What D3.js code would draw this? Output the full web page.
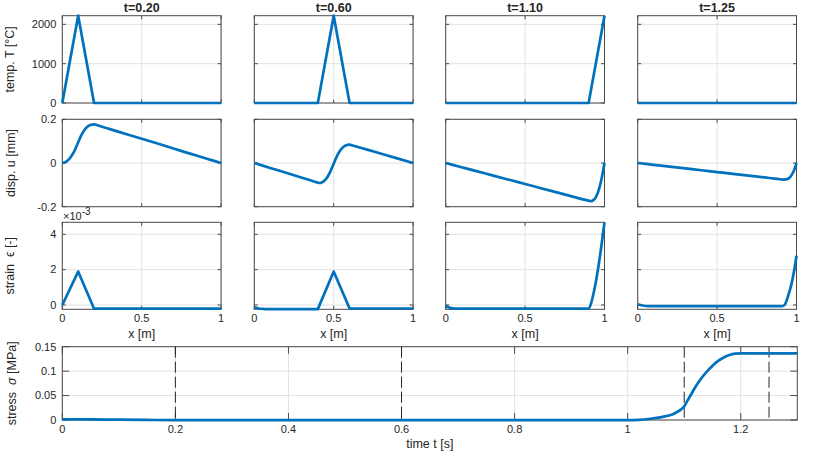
<!DOCTYPE html>
<html>
<head>
<meta charset="utf-8">
<script src="https://cdn.jsdelivr.net/npm/d3@7"></script>
<style>
  html, body { margin: 0; padding: 0; background: #fff; }
  svg { display: block; }
  text { font-family: "Liberation Sans", Arial, Helvetica, sans-serif; fill: #262626; }
</style>
</head>
<body>
<svg id="chart" width="830" height="457"></svg>
<script>
// ---------------- DATA ----------------
const times = ["t=0.20", "t=0.60", "t=1.10", "t=1.25"];
const snapTimes = [0.2, 0.6, 1.1, 1.25];

// temperature T [°C] along x [m]
const temp020 = [[0,0],[0.1,2220],[0.2,0],[1,0]];
const temp060 = [[0,0],[0.4,0],[0.5,2220],[0.6,0],[1,0]];
const temp110 = [[0,0],[0.9,0],[1,2220]];
const temp125 = [[0,0],[1,0]];

// displacement u [mm] along x [m]
const disp020 = [[0,0],[0.025,0.006],[0.05,0.024],[0.075,0.053],[0.1,0.095],[0.125,0.134],[0.15,0.161],[0.175,0.174],[0.2,0.177],[0.22,0.173],[0.3,0.155],[0.4,0.133],[0.5,0.111],[0.6,0.089],[0.7,0.066],[0.8,0.044],[0.9,0.022],[1,0]];
const disp060 = [[0,0],[0.1,-0.0225],[0.2,-0.045],[0.3,-0.0675],[0.38,-0.0855],[0.4,-0.0895],[0.415,-0.0915],[0.425,-0.089],[0.45,-0.075],[0.475,-0.045],[0.5,-0.003],[0.525,0.038],[0.55,0.066],[0.575,0.080],[0.6,0.084],[0.62,0.080],[0.7,0.0634],[0.8,0.0423],[0.9,0.0212],[1,0]];
const disp110 = [[0,0],[0.1,-0.0192],[0.2,-0.0384],[0.3,-0.0577],[0.4,-0.0769],[0.5,-0.0961],[0.6,-0.1153],[0.7,-0.1345],[0.8,-0.1538],[0.88,-0.169],[0.9,-0.1725],[0.915,-0.1745],[0.93,-0.170],[0.945,-0.157],[0.96,-0.132],[0.98,-0.078],[1,0]];
const disp125 = [[0,0],[0.1,-0.0083],[0.2,-0.0166],[0.3,-0.0248],[0.4,-0.0331],[0.5,-0.0414],[0.6,-0.0497],[0.7,-0.058],[0.8,-0.0662],[0.88,-0.0728],[0.9,-0.0745],[0.92,-0.0757],[0.94,-0.074],[0.96,-0.0644],[0.98,-0.0414],[1,0]];

// strain epsilon [x1e-3] along x [m]
const strain020 = [[0,0],[0.1,1.89],[0.2,-0.21],[1,-0.21]];
const strain060 = [[0,-0.13],[0.03,-0.2],[0.07,-0.235],[0.4,-0.235],[0.5,1.89],[0.6,-0.2],[1,-0.2]];
const strain110 = [[0,-0.06],[0.04,-0.19],[0.08,-0.21],[0.5,-0.21],[0.9,-0.21],[0.92,0.24],[0.94,1.04],[0.96,2.08],[0.98,3.31],[1,4.68]];
const strain125 = [[0,0.04],[0.03,-0.03],[0.07,-0.07],[0.5,-0.07],[0.9,-0.07],[0.91,-0.06],[0.92,-0.03],[0.93,0.08],[0.94,0.3],[0.95,0.6],[0.96,0.9],[0.97,1.25],[0.98,1.7],[0.99,2.2],[1,2.79]];

// stress sigma [MPa] over time t [s]
const stress = [[0,0.0015],[0.05,0.0012],[0.1,0.0006],[0.15,0.0001],[0.2,-0.0003],[0.6,-0.0003],[1.0,-0.0002],[1.02,0.0003],[1.04,0.0025],[1.06,0.006],[1.08,0.012],[1.09,0.018],[1.1,0.028],[1.105,0.038],[1.11,0.048],[1.12,0.068],[1.13,0.085],[1.14,0.099],[1.15,0.111],[1.16,0.121],[1.17,0.128],[1.18,0.133],[1.19,0.1358],[1.2,0.1365],[1.3,0.1365]];

// axis limits & ticks
const xDomain = [0, 1];
const xTicks = [0, 0.5, 1];
const xTickLabels = ["0", "0.5", "1"];
const tempDomain = [0, 2220];
const tempTicks = [0, 1000, 2000];
const tempTickLabels = ["0", "1000", "2000"];
const dispDomain = [-0.2, 0.2];
const dispTicks = [-0.2, 0, 0.2];
const dispTickLabels = ["-0.2", "0", "0.2"];
const strainDomain = [-0.245, 4.68];
const strainTicks = [0, 2, 4];
const strainTickLabels = ["0", "2", "4"];
const tDomain = [0, 1.3];
const tTicks = [0, 0.2, 0.4, 0.6, 0.8, 1, 1.2];
const tTickLabels = ["0", "0.2", "0.4", "0.6", "0.8", "1", "1.2"];
const stressDomain = [0, 0.15];
const stressTicks = [0, 0.05, 0.1, 0.15];
const stressTickLabels = ["0", "0.05", "0.1", "0.15"];

const tempSeries = [temp020, temp060, temp110, temp125];
const dispSeries = [disp020, disp060, disp110, disp125];
const strainSeries = [strain020, strain060, strain110, strain125];

// ---------------- DRAWING ----------------
const svg = d3.select("#chart");
const LINE = "#0072BD";
const BOX = "#4a4a4a";
const GRID = "#e2e2e2";

const colX = [62.3, 254.3, 445.7, 637.7];
const panelW = 158.8;
const rows = [[15.7, 103], [119.3, 206.7], [222.3, 309.3]];

function drawAxes(opts) {
  const {x0, x1, y0, y1, xd, yd, xt, xtl, yt, ytl, showX, showY, tl, data, curve, vlines} = opts;
  const g = svg.append("g");
  const x = d3.scaleLinear().domain(xd).range([x0, x1]);
  const y = d3.scaleLinear().domain(yd).range([y1, y0]);
  // grid
  g.selectAll(".gx").data(xt).enter().append("line")
    .attr("x1", d => x(d)).attr("x2", d => x(d)).attr("y1", y0).attr("y2", y1)
    .attr("stroke", GRID).attr("stroke-width", 1);
  g.selectAll(".gy").data(yt).enter().append("line")
    .attr("x1", x0).attr("x2", x1).attr("y1", d => y(d)).attr("y2", d => y(d))
    .attr("stroke", GRID).attr("stroke-width", 1);
  // box
  g.append("rect").attr("x", x0).attr("y", y0).attr("width", x1 - x0).attr("height", y1 - y0)
    .attr("fill", "none").attr("stroke", BOX).attr("stroke-width", 1);
  // ticks (inside, all four sides)
  xt.forEach(d => {
    g.append("line").attr("x1", x(d)).attr("x2", x(d)).attr("y1", y1).attr("y2", y1 - tl).attr("stroke", BOX);
    g.append("line").attr("x1", x(d)).attr("x2", x(d)).attr("y1", y0).attr("y2", y0 + tl).attr("stroke", BOX);
  });
  yt.forEach(d => {
    g.append("line").attr("x1", x0).attr("x2", x0 + tl).attr("y1", y(d)).attr("y2", y(d)).attr("stroke", BOX);
    g.append("line").attr("x1", x1).attr("x2", x1 - tl).attr("y1", y(d)).attr("y2", y(d)).attr("stroke", BOX);
  });
  // vertical dashed markers
  if (vlines) {
    g.selectAll(".vl").data(vlines).enter().append("line")
      .attr("x1", d => x(d)).attr("x2", d => x(d)).attr("y1", y0).attr("y2", y1)
      .attr("stroke", "#262626").attr("stroke-width", 1).attr("stroke-dasharray", "11,4");
  }
  // data
  const line = d3.line().x(d => x(d[0])).y(d => y(d[1])).curve(curve);
  g.append("path").datum(data).attr("d", line)
    .attr("fill", "none").attr("stroke", LINE).attr("stroke-width", 2.7)
    .attr("stroke-linejoin", "round").attr("stroke-linecap", "butt");
  // tick labels
  if (showX) {
    g.selectAll(".xl").data(xt).enter().append("text")
      .attr("x", d => x(d)).attr("y", y1 + 13).attr("text-anchor", "middle")
      .attr("font-size", "11px").text((d, i) => xtl[i]);
  }
  if (showY) {
    g.selectAll(".yl").data(yt).enter().append("text")
      .attr("x", x0 - 6).attr("y", d => y(d)).attr("dy", "0.35em").attr("text-anchor", "end")
      .attr("font-size", "11px").text((d, i) => ytl[i]);
  }
  return {x, y};
}

for (let c = 0; c < 4; c++) {
  const x0 = colX[c], x1 = colX[c] + panelW;
  // title
  svg.append("text").attr("x", (x0 + x1) / 2).attr("y", 11.5).attr("text-anchor", "middle")
    .attr("font-size", "12.5px").attr("font-weight", "bold").text(times[c]);
  drawAxes({x0, x1, y0: rows[0][0], y1: rows[0][1], xd: xDomain, yd: tempDomain,
    xt: xTicks, xtl: xTickLabels, yt: tempTicks, ytl: tempTickLabels,
    showX: false, showY: c === 0, tl: 3.5, data: tempSeries[c], curve: d3.curveLinear});
  drawAxes({x0, x1, y0: rows[1][0], y1: rows[1][1], xd: xDomain, yd: dispDomain,
    xt: xTicks, xtl: xTickLabels, yt: dispTicks, ytl: dispTickLabels,
    showX: false, showY: c === 0, tl: 3.5, data: dispSeries[c], curve: d3.curveMonotoneX});
  drawAxes({x0, x1, y0: rows[2][0], y1: rows[2][1], xd: xDomain, yd: strainDomain,
    xt: xTicks, xtl: xTickLabels, yt: strainTicks, ytl: strainTickLabels,
    showX: true, showY: c === 0, tl: 3.5, data: strainSeries[c],
    curve: c < 2 ? d3.curveLinear : d3.curveMonotoneX});
  svg.append("text").attr("x", (x0 + x1) / 2).attr("y", 338).attr("text-anchor", "middle")
    .attr("font-size", "12.5px").text("x [m]");
}

// stress over time
drawAxes({x0: 62.3, x1: 797.3, y0: 346.7, y1: 420, xd: tDomain, yd: stressDomain,
  xt: tTicks, xtl: tTickLabels, yt: stressTicks, ytl: stressTickLabels,
  showX: true, showY: true, tl: 7, data: stress, curve: d3.curveMonotoneX, vlines: snapTimes});
svg.append("text").attr("x", 429.8).attr("y", 448).attr("text-anchor", "middle")
  .attr("font-size", "12.5px").text("time t [s]");

// y labels
function ylabel(cx, cy, parts) {
  const t = svg.append("text").attr("transform", `translate(${cx},${cy}) rotate(-90)`)
    .attr("text-anchor", "middle").attr("dy", "0.35em").attr("font-size", "12.5px")
    .style("white-space", "pre");
  parts.forEach(p => {
    const s = t.append("tspan").text(p.t);
    if (p.i) s.attr("font-style", "italic");
  });
}
ylabel(10, (rows[0][0] + rows[0][1]) / 2, [{t: "temp. T [°C]"}]);
ylabel(10.5, (rows[1][0] + rows[1][1]) / 2, [{t: "disp. u [mm]"}]);
ylabel(10, (rows[2][0] + rows[2][1]) / 2, [{t: "strain  "}, {t: "ϵ"}, {t: " [-]"}]);
ylabel(12, 383.3, [{t: "stress  "}, {t: "σ", i: true}, {t: " [MPa]"}]);

// exponent label for strain
const ex = svg.append("text").attr("x", 63).attr("y", 219.5).attr("font-size", "11px");
ex.append("tspan").text("×10");
ex.append("tspan").attr("dy", "-5").attr("font-size", "10px").text("-3");
</script>
</body>
</html>
